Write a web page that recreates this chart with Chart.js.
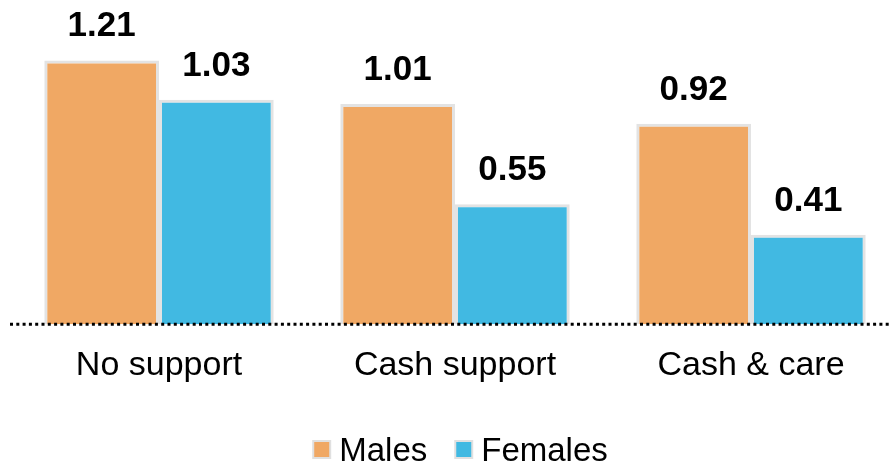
<!DOCTYPE html>
<html lang="en">

<head>
    <meta charset="UTF-8">
    <title>Cash and care support</title>
    <style>
        html, body { margin: 0; padding: 0; background: #fff; }
        #wrap { width: 892px; height: 465px; }
    </style>
</head>

<body>
    <div id="wrap">
        <canvas id="myChart"></canvas>
    </div>
    <script src="https://cdn.jsdelivr.net/npm/chart.js"></script>
    <script>
        const categories = ['No support', 'Cash support', 'Cash & care'];
        const seriesNames = ['Males', 'Females'];
        const males = [1.21, 1.01, 0.92];
        const females = [1.03, 0.55, 0.41];
        const seriesColors = ['#F0A864', '#41B9E2'];

        const fontFamily = '"Liberation Sans", Arial, sans-serif';
        const ctx = document.getElementById('myChart');

        // numbers above each bar
        const valueLabels = {
            id: 'valueLabels',
            afterDatasetsDraw(chart) {
                const c = chart.ctx;
                c.save();
                c.font = 'bold 35px ' + fontFamily;
                c.fillStyle = '#000';
                c.textAlign = 'center';
                c.textBaseline = 'alphabetic';
                chart.data.datasets.forEach((ds, i) => {
                    chart.getDatasetMeta(i).data.forEach((bar, j) => {
                        c.fillText(ds.data[j].toFixed(2), bar.x, bar.y - 24);
                    });
                });
                c.restore();
            }
        };

        // dotted zero line running across the whole width
        const zeroLine = {
            id: 'zeroLine',
            afterDatasetsDraw(chart) {
                const c = chart.ctx;
                const y = chart.scales.y.getPixelForValue(0);
                c.save();
                c.strokeStyle = '#000';
                c.lineWidth = 3;
                c.setLineDash([3, 3.3]);
                c.beginPath();
                c.moveTo(10, y);
                c.lineTo(chart.width, y);
                c.stroke();
                c.restore();
            }
        };

        // legend: small box with a tight gap before the text
        const bottomLegend = {
            id: 'bottomLegend',
            afterDraw(chart) {
                const c = chart.ctx;
                const box = 19, gap = 8, spacing = 27, centerX = 460, boxTop = 440, baseY = 461;
                c.save();
                c.font = '33px ' + fontFamily;
                const items = chart.data.datasets.map(ds => ({
                    text: ds.label,
                    color: ds.backgroundColor,
                    w: box + gap + c.measureText(ds.label).width
                }));
                const total = items.reduce((s, it) => s + it.w, 0) + spacing * (items.length - 1);
                let x = centerX - total / 2;
                items.forEach(it => {
                    c.fillStyle = it.color;
                    c.fillRect(x + 1, boxTop + 1, box - 2, box - 2);
                    c.strokeStyle = '#E0E0E0';
                    c.lineWidth = 2;
                    c.strokeRect(x + 1, boxTop + 1, box - 2, box - 2);
                    c.fillStyle = '#000';
                    c.textAlign = 'left';
                    c.textBaseline = 'alphabetic';
                    c.fillText(it.text, x + box + gap, baseY);
                    x += it.w + spacing;
                });
                c.restore();
            }
        };

        new Chart(ctx, {
            type: 'bar',
            data: {
                labels: categories,
                datasets: [{
                    label: seriesNames[0],
                    data: males,
                    backgroundColor: seriesColors[0],
                }, {
                    label: seriesNames[1],
                    data: females,
                    backgroundColor: seriesColors[1],
                }]
            },
            options: {
                responsive: true,
                maintainAspectRatio: false,
                animation: false,
                datasets: {
                    bar: {
                        borderColor: '#E3E3E3',
                        borderWidth: 3,
                        borderSkipped: 'bottom',
                        categoryPercentage: 0.775,
                        barPercentage: 1,
                        clip: false
                    }
                },
                layout: {
                    padding: { left: 159, right: 141, top: 19, bottom: 58 }
                },
                scales: {
                    x: {
                        offset: false,
                        grid: { display: false, drawTicks: false },
                        border: { display: false },
                        ticks: {
                            color: '#000',
                            padding: 21,
                            font: { family: fontFamily, size: 34 }
                        }
                    },
                    y: {
                        display: false,
                        min: 0,
                        max: 1.4
                    }
                },
                plugins: {
                    legend: { display: false },
                    tooltip: { enabled: false }
                }
            },
            plugins: [valueLabels, zeroLine, bottomLegend]
        });
    </script>
</body>

</html>
